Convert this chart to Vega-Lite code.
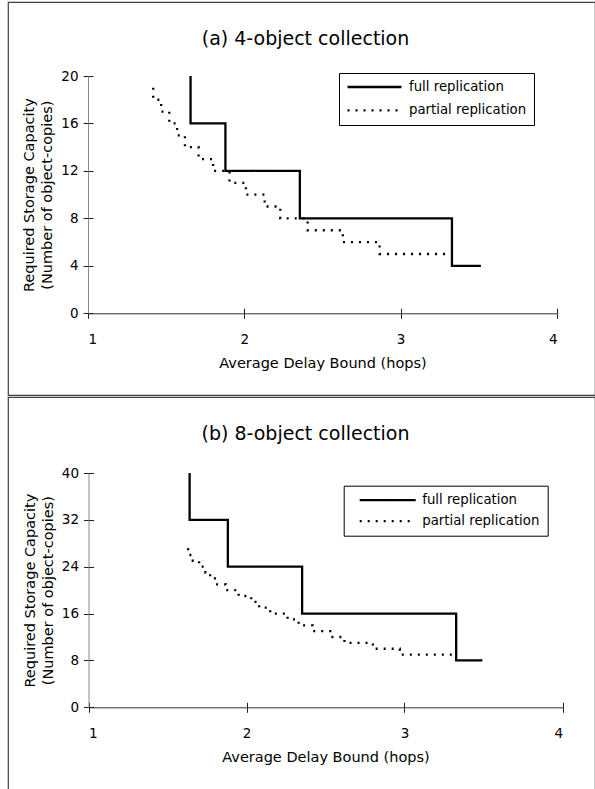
{
  "$schema": "https://vega.github.io/schema/vega-lite/v6.json",
  "padding": {"left": 7, "top": 1, "right": 1, "bottom": 1},
  "spacing": 0,
  "background": "white",
  "resolve": {"scale": {"strokeDash": "independent"}, "legend": {"strokeDash": "independent"}},
  "config": {
    "view": {"stroke": "#404040", "strokeWidth": 1.2},
    "font": "DejaVu Sans",
    "axis": {"grid": false, "labelFont": "DejaVu Sans", "labelFontSize": 13.5, "labelColor": "black", "titleFont": "DejaVu Sans", "titleFontSize": 14.5, "titleFontWeight": "normal", "titleColor": "black", "tickColor": "#222", "tickSize": 5, "domainColor": "#333"},
    "title": {"font": "DejaVu Sans", "fontSize": 19, "fontWeight": "normal", "color": "black"}
  },
  "datasets": {
    "a": [
      {"series": "full replication", "i": 1, "delay": 1.656, "capacity": 20},
      {"series": "full replication", "i": 2, "delay": 1.656, "capacity": 16},
      {"series": "full replication", "i": 3, "delay": 1.879, "capacity": 12},
      {"series": "full replication", "i": 4, "delay": 2.355, "capacity": 8},
      {"series": "full replication", "i": 5, "delay": 3.328, "capacity": 4},
      {"series": "full replication", "i": 6, "delay": 3.513, "capacity": 4},
      {"series": "partial replication", "i": 1, "delay": 1.417, "capacity": 19},
      {"series": "partial replication", "i": 2, "delay": 1.417, "capacity": 18},
      {"series": "partial replication", "i": 3, "delay": 1.468, "capacity": 17},
      {"series": "partial replication", "i": 4, "delay": 1.52, "capacity": 16},
      {"series": "partial replication", "i": 5, "delay": 1.57, "capacity": 15},
      {"series": "partial replication", "i": 6, "delay": 1.62, "capacity": 14},
      {"series": "partial replication", "i": 7, "delay": 1.707, "capacity": 13},
      {"series": "partial replication", "i": 8, "delay": 1.8, "capacity": 12},
      {"series": "partial replication", "i": 9, "delay": 1.905, "capacity": 11},
      {"series": "partial replication", "i": 10, "delay": 2.01, "capacity": 10},
      {"series": "partial replication", "i": 11, "delay": 2.13, "capacity": 9},
      {"series": "partial replication", "i": 12, "delay": 2.23, "capacity": 8},
      {"series": "partial replication", "i": 13, "delay": 2.405, "capacity": 7},
      {"series": "partial replication", "i": 14, "delay": 2.63, "capacity": 6},
      {"series": "partial replication", "i": 15, "delay": 2.865, "capacity": 5},
      {"series": "partial replication", "i": 16, "delay": 3.33, "capacity": 5}
    ],
    "b": [
      {"series": "full replication", "i": 1, "delay": 1.64, "capacity": 40},
      {"series": "full replication", "i": 2, "delay": 1.64, "capacity": 32},
      {"series": "full replication", "i": 3, "delay": 1.882, "capacity": 24},
      {"series": "full replication", "i": 4, "delay": 2.352, "capacity": 16},
      {"series": "full replication", "i": 5, "delay": 3.327, "capacity": 8},
      {"series": "full replication", "i": 6, "delay": 3.493, "capacity": 8},
      {"series": "partial replication", "i": 1, "delay": 1.625, "capacity": 27},
      {"series": "partial replication", "i": 2, "delay": 1.63, "capacity": 26},
      {"series": "partial replication", "i": 3, "delay": 1.66, "capacity": 25},
      {"series": "partial replication", "i": 4, "delay": 1.7, "capacity": 24},
      {"series": "partial replication", "i": 5, "delay": 1.74, "capacity": 23},
      {"series": "partial replication", "i": 6, "delay": 1.77, "capacity": 22},
      {"series": "partial replication", "i": 7, "delay": 1.8, "capacity": 21},
      {"series": "partial replication", "i": 8, "delay": 1.87, "capacity": 20},
      {"series": "partial replication", "i": 9, "delay": 1.95, "capacity": 19},
      {"series": "partial replication", "i": 10, "delay": 2.03, "capacity": 18},
      {"series": "partial replication", "i": 11, "delay": 2.08, "capacity": 17},
      {"series": "partial replication", "i": 12, "delay": 2.15, "capacity": 16},
      {"series": "partial replication", "i": 13, "delay": 2.26, "capacity": 15},
      {"series": "partial replication", "i": 14, "delay": 2.33, "capacity": 14},
      {"series": "partial replication", "i": 15, "delay": 2.42, "capacity": 13},
      {"series": "partial replication", "i": 16, "delay": 2.53, "capacity": 12},
      {"series": "partial replication", "i": 17, "delay": 2.62, "capacity": 11},
      {"series": "partial replication", "i": 18, "delay": 2.8, "capacity": 10},
      {"series": "partial replication", "i": 19, "delay": 2.97, "capacity": 9},
      {"series": "partial replication", "i": 20, "delay": 3.33, "capacity": 9}
    ]
  },
  "vconcat": [
    {
      "title": {"text": "(a) 4-object collection", "offset": -47, "dx": 4},
      "width": 587,
      "height": 393,
      "data": {"name": "a"},
      "resolve": {"axis": {"x": "independent", "y": "independent"}},
      "layer": [
        {
          "mark": {"type": "line", "interpolate": "step-after", "color": "black", "strokeWidth": 2.3, "strokeCap": "butt"},
          "encoding": {
            "x": {"field": "delay", "type": "quantitative", "scale": {"domain": [1, 4], "range": [80, 549], "nice": false, "zero": false},
              "axis": {"orient": "bottom", "offset": -81.7, "values": [1, 2, 3, 4], "labelPadding": 14.5, "title": "Average Delay Bound (hops)", "titlePadding": 10}},
            "y": {"field": "capacity", "type": "quantitative", "scale": {"domain": [0, 20], "range": [311.3, 74], "nice": false},
              "axis": {"orient": "left", "offset": -80, "values": [0, 4, 8, 12, 16, 20], "domainColor": "#888", "labelPadding": 5, "title": ["Required Storage Capacity", "(Number of object-copies)"], "titlePadding": 6, "titleLineHeight": 18}},
            "order": {"field": "i", "type": "quantitative"},
            "strokeDash": {"field": "series", "type": "nominal",
              "scale": {"domain": ["full replication", "partial replication"], "range": [[1, 0], [2, 6]]},
              "legend": {"orient": "none", "legendX": 331, "legendY": 71, "title": null, "symbolType": "stroke", "symbolSize": 2916, "clipHeight": 14, "symbolStrokeWidth": 2.3, "symbolStrokeColor": "black", "labelFont": "DejaVu Sans", "labelFontSize": 13.3, "labelColor": "black", "labelOffset": 6, "padding": 7, "rowPadding": 9.3, "strokeColor": "black", "fillColor": "white"}}
          }
        },
        {
          "mark": {"type": "line", "opacity": 0},
          "encoding": {
            "x": {"field": "delay", "type": "quantitative", "axis": {"orient": "top", "offset": -311.3, "values": [1, 2, 3, 4], "labels": false, "domain": false, "title": null}},
            "y": {"field": "capacity", "type": "quantitative", "axis": {"orient": "right", "offset": -507, "values": [0, 4, 8, 12, 16, 20], "labels": false, "domain": false, "title": null}},
            "detail": {"field": "series", "type": "nominal"},
            "order": {"field": "i", "type": "quantitative"}
          }
        }
      ]
    },
    {
      "title": {"text": "(b) 8-object collection", "offset": -47, "dx": 4},
      "width": 587,
      "height": 393,
      "data": {"name": "b"},
      "resolve": {"axis": {"x": "independent", "y": "independent"}},
      "layer": [
        {
          "mark": {"type": "line", "interpolate": "step-after", "color": "black", "strokeWidth": 2.3, "strokeCap": "butt"},
          "encoding": {
            "x": {"field": "delay", "type": "quantitative", "scale": {"domain": [1, 4], "range": [80.5, 554.5], "nice": false, "zero": false},
              "axis": {"orient": "bottom", "offset": -82.7, "values": [1, 2, 3, 4], "labelPadding": 14.5, "title": "Average Delay Bound (hops)", "titlePadding": 10}},
            "y": {"field": "capacity", "type": "quantitative", "scale": {"domain": [0, 40], "range": [310.3, 76], "nice": false},
              "axis": {"orient": "left", "offset": -80.5, "values": [0, 8, 16, 24, 32, 40], "domainColor": "#888", "labelPadding": 5, "title": ["Required Storage Capacity", "(Number of object-copies)"], "titlePadding": 6, "titleLineHeight": 18}},
            "order": {"field": "i", "type": "quantitative"},
            "strokeDash": {"field": "series", "type": "nominal",
              "scale": {"domain": ["full replication", "partial replication"], "range": [[1, 0], [2, 6]]},
              "legend": {"orient": "none", "legendX": 335.7, "legendY": 88.7, "title": null, "symbolType": "stroke", "symbolSize": 3136, "clipHeight": 14, "symbolStrokeWidth": 2.3, "symbolStrokeColor": "black", "symbolOffset": 7, "labelFont": "DejaVu Sans", "labelFontSize": 13.3, "labelColor": "black", "labelOffset": 5, "padding": 7.5, "rowPadding": 7, "strokeColor": "black", "fillColor": "white"}}
          }
        },
        {
          "mark": {"type": "line", "opacity": 0},
          "encoding": {
            "x": {"field": "delay", "type": "quantitative", "axis": {"orient": "top", "offset": -310.3, "values": [1, 2, 3, 4], "labels": false, "domain": false, "title": null}},
            "y": {"field": "capacity", "type": "quantitative", "axis": {"orient": "right", "offset": -506.5, "values": [0, 8, 16, 24, 32, 40], "labels": false, "domain": false, "title": null}},
            "detail": {"field": "series", "type": "nominal"},
            "order": {"field": "i", "type": "quantitative"}
          }
        }
      ]
    }
  ]
}
